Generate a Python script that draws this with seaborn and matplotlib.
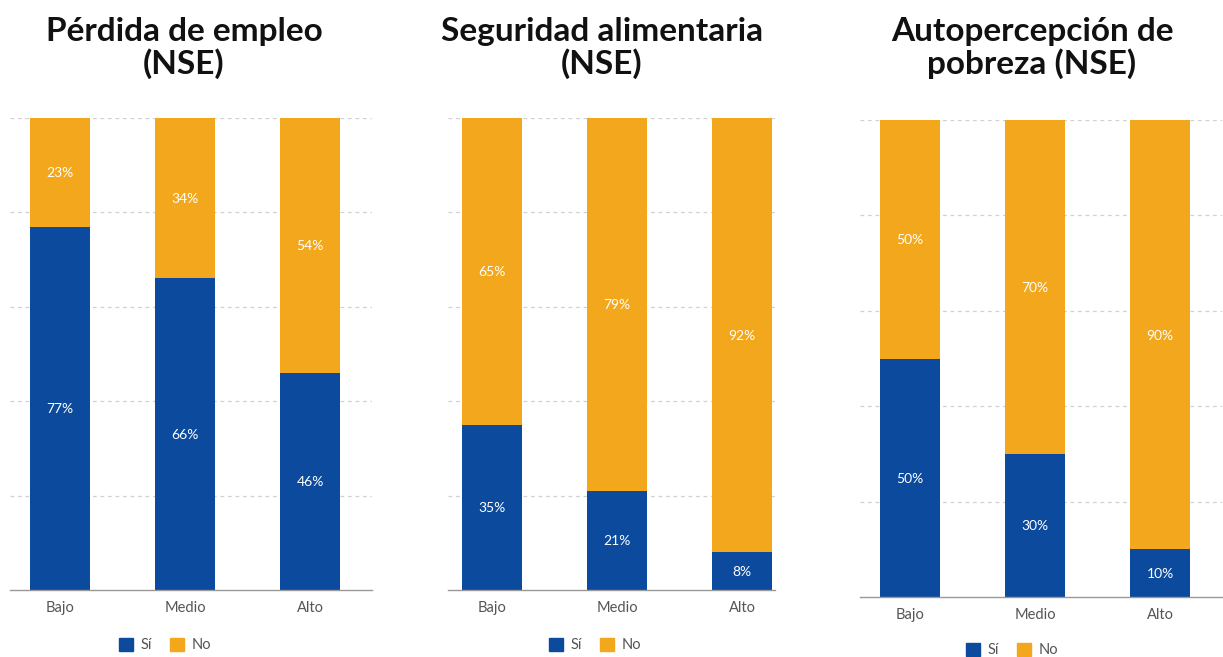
import matplotlib
matplotlib.use("Agg")
import matplotlib.pyplot as plt
import matplotlib.patches as mpatches
import seaborn as sns
import pandas as pd

sns.set_theme(style="white")
plt.rcParams['font.family'] = ['Lato', 'DejaVu Sans']

categories = ["Bajo", "Medio", "Alto"]
titles = ["Pérdida de empleo\n(NSE)", "Seguridad alimentaria\n(NSE)", "Autopercepción de\npobreza (NSE)"]
si_empleo = [77, 66, 46]
no_empleo = [23, 34, 54]
si_alimentaria = [35, 21, 8]
no_alimentaria = [65, 79, 92]
si_pobreza = [50, 30, 10]
no_pobreza = [50, 70, 90]
legend_labels = ["Sí", "No"]

BLUE = "#0B4A9C"
ORANGE = "#F2A71C"

W, H = 1223, 657
fig = plt.figure(figsize=(W / 100, H / 100), dpi=100)

def px_axes(x0, x1, ytop, ybot):
    return fig.add_axes([x0 / W, (H - ybot) / H, (x1 - x0) / W, (ybot - ytop) / H])

panels = [
    dict(si=si_empleo, no=no_empleo, title=titles[0], ax=(10, 372, 118, 590), first=60,
         title_x=184, legend_x=165, legend_y=645),
    dict(si=si_alimentaria, no=no_alimentaria, title=titles[1], ax=(448, 775, 118, 590), first=492,
         title_x=602, legend_x=595, legend_y=645),
    dict(si=si_pobreza, no=no_pobreza, title=titles[2], ax=(860, 1222, 120, 597), first=910,
         title_x=1032, legend_x=1012, legend_y=650),
]

spacing = 125.0
for p in panels:
    x0, x1, yt, yb = p["ax"]
    ax = px_axes(x0, x1, yt, yb)
    df = pd.DataFrame({"cat": categories, "si": p["si"], "no": p["no"]})
    df["total"] = df["si"] + df["no"]
    sns.barplot(data=df, x="cat", y="total", color=ORANGE, width=0.48, saturation=1,
                ax=ax, zorder=3, linewidth=0)
    sns.barplot(data=df, x="cat", y="si", color=BLUE, width=0.48, saturation=1,
                ax=ax, zorder=4, linewidth=0)
    ax.set_xlim(-(p["first"] - x0) / spacing, (x1 - p["first"]) / spacing)
    ax.set_ylim(0, 100)
    ax.set_yticks([20, 40, 60, 80, 100])
    ax.set_yticklabels([])
    ax.tick_params(axis="y", length=0)
    ax.grid(axis="y", color="#D0D0D0", linestyle=(0, (3, 3)), linewidth=0.9, zorder=0)
    ax.grid(axis="x", visible=False)
    for s in ["top", "right", "left"]:
        ax.spines[s].set_visible(False)
    ax.spines["bottom"].set_color("#999999")
    ax.spines["bottom"].set_linewidth(1.0)
    ax.spines["bottom"].set_zorder(5)
    ax.set_xlabel("")
    ax.set_ylabel("")
    ax.tick_params(axis="x", length=0, pad=8, labelsize=10.5, labelcolor="#555555")
    for i, (s, n) in enumerate(zip(p["si"], p["no"])):
        ax.text(i, s / 2, f"{s}%", ha="center", va="center_baseline", color="white", fontsize=10, zorder=6)
        ax.text(i, s + n / 2, f"{n}%", ha="center", va="center_baseline", color="white", fontsize=10, zorder=6)
    fig.text(p["title_x"] / W, 1 - 48 / H, p["title"], ha="center", va="center",
             fontsize=24, fontweight="bold", color="#111111", linespacing=1.08)
    handles = [mpatches.Patch(color=BLUE, label=legend_labels[0]),
               mpatches.Patch(color=ORANGE, label=legend_labels[1])]
    fig.legend(handles=handles, loc="center", bbox_to_anchor=(p["legend_x"] / W, 1 - p["legend_y"] / H),
               ncol=2, frameon=False, fontsize=10.5, handlelength=1.0, handleheight=1.0,
               handletextpad=0.5, columnspacing=1.2, labelcolor="#555555")

fig.savefig("out.png", dpi=100, facecolor="white")
